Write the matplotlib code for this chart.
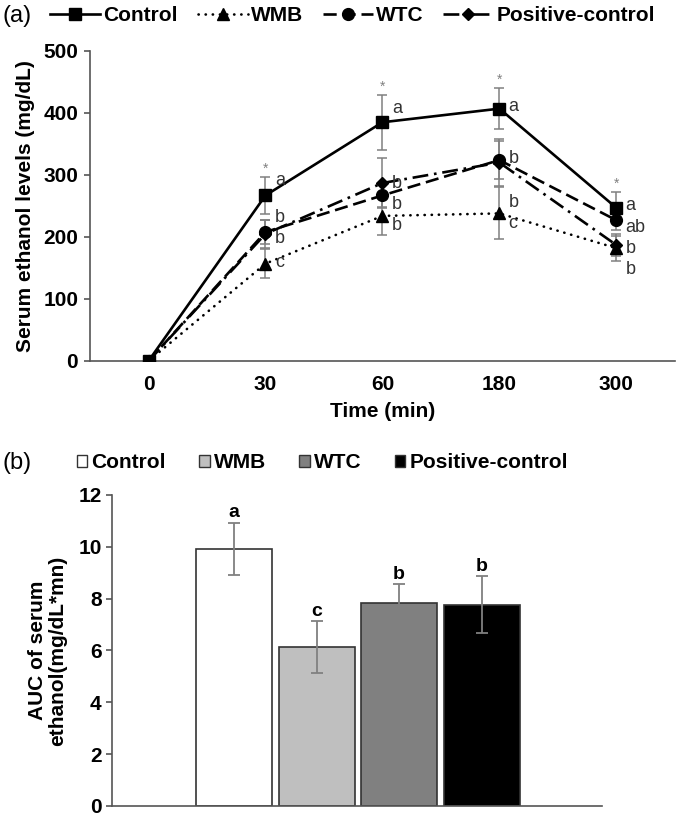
import matplotlib
matplotlib.use("Agg")
import matplotlib.pyplot as plt
from matplotlib.patches import Patch
import numpy as np

plt.rcParams['font.family'] = ['Liberation Sans', 'DejaVu Sans']

# ---------------- data ----------------
time_labels = ["0", "30", "60", "180", "300"]
groups = ["Control", "WMB", "WTC", "Positive-control"]

control = [0, 267, 385, 407, 247]
wmb = [0, 157, 234, 238, 182]
wtc = [0, 208, 267, 324, 227]
positive = [0, 205, 287, 320, 187]

control_err = [0, 30, 44, 33, 25]
wmb_err = [0, 23, 31, 42, 20]
wtc_err = [0, 20, 18, 30, 15]
positive_err = [0, 22, 40, 38, 18]

control_letters = ["", "a", "a", "a", "a"]
wmb_letters = ["", "c", "b", "c", "b"]
wtc_letters = ["", "b", "b", "b", "ab"]
positive_letters = ["", "b", "b", "b", "b"]
control_stars = ["", "*", "*", "*", "*"]

auc = [9.93, 6.13, 7.82, 7.77]
auc_err = [1.0, 1.0, 0.73, 1.1]
auc_letters = ["a", "c", "b", "b"]

# ---------------- styles ----------------
GRAY = "#808080"
SPINE = "#555555"
LW = 1.9
series = [
    (control, control_err, control_letters, "Control", dict(linestyle="-", marker="s", ms=8.5)),
    (wmb, wmb_err, wmb_letters, "WMB", dict(linestyle=(0, (0.1, 2.6)), marker="^", ms=8.5, dash_capstyle="round")),
    (wtc, wtc_err, wtc_letters, "WTC", dict(linestyle=(0, (5.0, 2.2)), marker="o", ms=8.5)),
    (positive, positive_err, positive_letters, "Positive-control", dict(linestyle=(0, (6.0, 2.2, 1.0, 2.2)), marker="D", ms=6.5)),
]
# letter label offsets (data units, layout only)
letter_dy = {
    "Control": [0, 24, 23, 3, 3],
    "WMB": [0, 2, -15, -16, -35],
    "WTC": [0, -11, -15, 3, -11],
    "Positive-control": [0, 27, 0, -64, -6],
}

fig = plt.figure(figsize=(6.8, 8.18), dpi=100)

# ---------------- panel (a) ----------------
ax1 = fig.add_axes([0.1324, 0.5587, 0.860, 0.3790])
x = np.arange(len(time_labels))
handles = []
for vals, errs, letters, name, st in series:
    ax1.errorbar(x, vals, yerr=errs, fmt="none", ecolor=GRAY, elinewidth=1.1,
                 capsize=3.6, capthick=1.1, zorder=2)
    ln, = ax1.plot(x, vals, color="black", lw=LW, zorder=3, **st)
    handles.append(ln)
    for i, (v, lab) in enumerate(zip(vals, letters)):
        if lab:
            ax1.text(i + 0.08, v + letter_dy[name][i], lab, fontsize=13,
                     color="#333333", va="center", ha="left", zorder=4)

for i, (v, e, s) in enumerate(zip(control, control_err, control_stars)):
    if s:
        ax1.annotate(s, (i, v + e), xytext=(0, 1), textcoords="offset points",
                     ha="center", va="bottom", fontsize=10, color=GRAY)

ax1.set_xlim(-0.5, 4.5)
ax1.set_ylim(0, 500)
ax1.set_yticks([0, 100, 200, 300, 400, 500])
ax1.set_xticks(x)
ax1.set_xticklabels(time_labels)
for sp in ["top", "right"]:
    ax1.spines[sp].set_visible(False)
for sp in ["left", "bottom"]:
    ax1.spines[sp].set_color(SPINE)
    ax1.spines[sp].set_linewidth(1.2)
ax1.tick_params(axis="y", length=4.5, width=1.2, color=SPINE, pad=4, labelsize=15)
ax1.tick_params(axis="x", length=0, pad=10, labelsize=15)
for lab in ax1.get_xticklabels() + ax1.get_yticklabels():
    lab.set_fontweight("bold")
ax1.set_xlabel("Time (min)", fontsize=15, fontweight="bold", labelpad=6)
ax1.set_ylabel("Serum ethanol levels (mg/dL)", fontsize=15, fontweight="bold", labelpad=6)

fig.text(0.003, 0.981, "(a)", fontsize=17, va="center", ha="left")
fig.legend(handles=handles, labels=groups, loc="center left",
           bbox_to_anchor=(0.074, 0.981), ncol=4, frameon=False,
           handlelength=2.4, handletextpad=0.15, columnspacing=0.95,
           prop=dict(size=15, weight="bold"), borderaxespad=0, borderpad=0)

# ---------------- panel (b) ----------------
ax2 = fig.add_axes([0.1647, 0.0147, 0.7206, 0.3802])
bar_colors = ["white", "#bfbfbf", "#808080", "black"]
xb = np.arange(len(groups))
ax2.bar(xb, auc, width=0.92, color=bar_colors, edgecolor="#333333", linewidth=1.2, zorder=2)
ax2.errorbar(xb, auc, yerr=auc_err, fmt="none", ecolor=GRAY, elinewidth=1.3,
             capsize=4.5, capthick=1.3, zorder=3)
for i, (v, e, lab) in enumerate(zip(auc, auc_err, auc_letters)):
    ax2.annotate(lab, (i, v + e), xytext=(0, 1), textcoords="offset points",
                 ha="center", va="bottom", fontsize=14, fontweight="bold")
ax2.set_xlim(-1.48, 4.46)
ax2.set_ylim(0, 12)
ax2.set_yticks([0, 2, 4, 6, 8, 10, 12])
ax2.set_xticks([])
for sp in ["top", "right"]:
    ax2.spines[sp].set_visible(False)
for sp in ["left", "bottom"]:
    ax2.spines[sp].set_color(SPINE)
    ax2.spines[sp].set_linewidth(1.2)
ax2.tick_params(axis="y", length=4.5, width=1.2, color=SPINE, pad=3, labelsize=15)
for lab in ax2.get_yticklabels():
    lab.set_fontweight("bold")
ax2.set_ylabel("AUC of serum\nethanol(mg/dL*mn)", fontsize=15, fontweight="bold",
               labelpad=8, linespacing=1.1)

fig.text(0.003, 0.434, "(b)", fontsize=17, va="center", ha="left")
patches = [Patch(facecolor=c, edgecolor="#333333", linewidth=1.0) for c in bar_colors]
fig.legend(handles=patches, labels=groups, loc="center left",
           bbox_to_anchor=(0.113, 0.434), ncol=4, frameon=False,
           handlelength=0.5, handleheight=0.5, handletextpad=0.2, columnspacing=1.6,
           prop=dict(size=15, weight="bold"), borderaxespad=0, borderpad=0)

fig.savefig("out.png", dpi=100)
